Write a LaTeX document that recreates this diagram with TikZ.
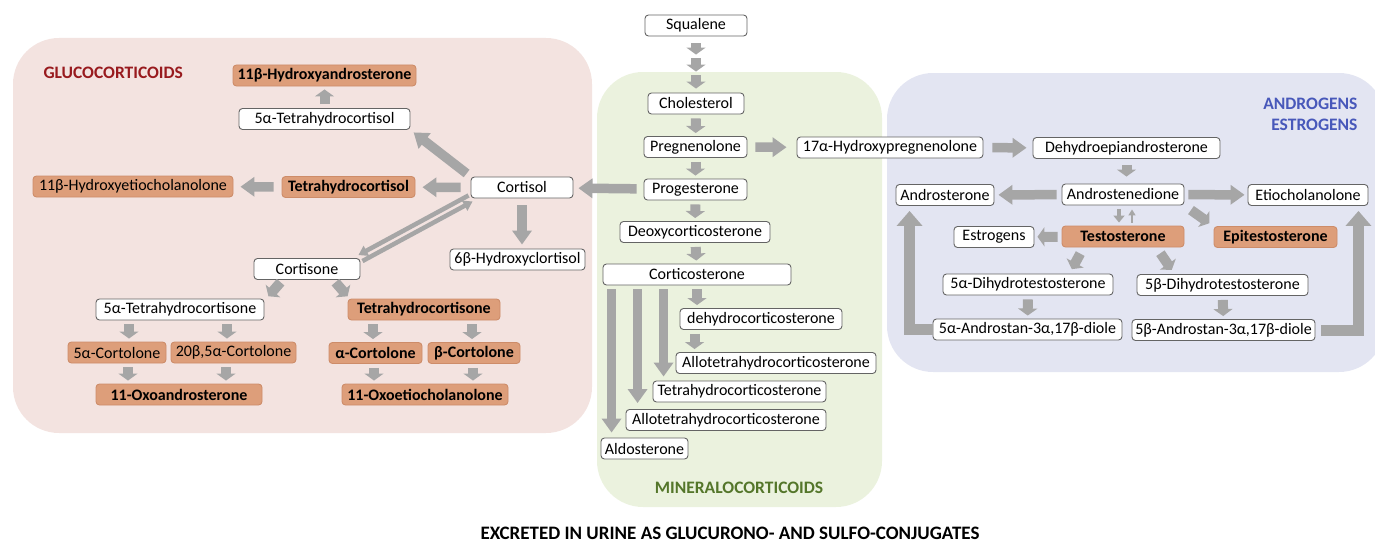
\documentclass[tikz,border=0pt]{standalone}
\usepackage{fontspec}
\setmainfont{Carlito}
\usetikzlibrary{arrows.meta}

\definecolor{arw}{RGB}{166,166,166}
\definecolor{rim}{RGB}{100,100,100}
\definecolor{peach}{RGB}{221,158,122}
\definecolor{peachrim}{RGB}{205,140,105}
\definecolor{glucobg}{RGB}{243,227,224}
\definecolor{minerbg}{RGB}{235,242,222}
\definecolor{andrbg}{RGB}{227,229,242}
\definecolor{glucotx}{RGB}{152,26,30}
\definecolor{minertx}{RGB}{84,118,42}
\definecolor{andrtx}{RGB}{72,88,186}

\begin{document}
\begin{tikzpicture}[x=1pt,y=-1pt,font=\fontsize{16}{18}\selectfont,
	met/.style={draw=rim,fill=white,rounded corners=3.5pt,line width=0.9pt,minimum height=21pt,inner xsep=1pt,inner ysep=0pt},
	uri/.style={met,draw=peachrim,fill=peach,font=\fontsize{16}{18}\selectfont\bfseries},
	uril/.style={met,draw=peachrim,fill=peach},
	gname/.style={font=\fontsize{17.5}{21}\selectfont\bfseries},
	panel/.style={rounded corners=46pt},
	fat/.style={draw=arw,line width=9.5pt,-{Triangle[length=14pt,width=19pt]}},
	stub/.style={draw=arw,line width=10pt,-{Triangle[length=7pt,width=19pt]},shorten <=4pt,shorten >=3pt},
	duo/.style={draw=arw,line width=4.5pt,-{Triangle[length=9pt,width=11pt]}},
	elbow/.style={draw=arw,line width=11pt,-{Triangle[length=15pt,width=25pt]}}]
	\useasboundingbox (0,0) rectangle (1375,543);

	\fill[glucobg,panel] (13,38) rectangle (592,433);
	\fill[minerbg,panel] (597,72) rectangle (882,507);
	\fill[andrbg,panel] (887,73) rectangle (1385,372);

	\node[gname,text=glucotx,anchor=west] (glu) at (40,73) {GLUCOCORTICOIDS};
	\node[gname,text=andrtx,align=right,anchor=east] (andr) at (1361,114) {ANDROGENS\\ESTROGENS};
	\node[gname,text=minertx] (miner) at (739,488) {MINERALOCORTICOIDS};
	\node[gname,font=\fontsize{19}{22}\selectfont\bfseries] (urine) at (730,533) {EXCRETED IN URINE AS GLUCURONO- AND SULFO-CONJUGATES};

	\node[met,minimum width=102pt] (sq) at (696,25.5) {Squalene};
	\node[met,minimum width=96pt] (chol) at (696,103.5) {Cholesterol};
	\node[met,minimum width=103pt] (preg) at (695.5,147) {Pregnenolone};
	\node[met,minimum width=103pt] (prog) at (695.5,189.5) {Progesterone};
	\node[met,minimum width=150pt] (doc) at (695,232) {Deoxycorticosterone};
	\node[met,minimum width=188pt] (cort) at (697,274.5) {Corticosterone};
	\node[met,minimum width=162pt] (dhc) at (761,319) {dehydrocorticosterone};
	\node[met,minimum width=200pt] (ath1) at (776,363) {Allotetrahydrocorticosterone};
	\node[met,minimum width=173pt] (thcc) at (739.5,391.5) {Tetrahydrocorticosterone};
	\node[met,minimum width=200pt] (ath2) at (726,420) {Allotetrahydrocorticosterone};
	\node[met,minimum width=87pt] (aldo) at (644.5,448.5) {Aldosterone};

	\node[uri,minimum width=183pt] (hya) at (324.5,75.5) {11β-Hydroxyandrosterone};
	\node[met,minimum width=171pt] (thf5) at (324.5,119) {5α-Tetrahydrocortisol};
	\node[uril,minimum width=200pt] (hye) at (133,186.5) {11β-Hydroxyetiocholanolone};
	\node[uri,minimum width=133pt] (thf) at (348.5,187) {Tetrahydrocortisol};
	\node[met,minimum width=102pt] (cortisol) at (522,187.5) {Cortisol};
	\node[met,minimum width=135pt] (hcl) at (517.5,259.5) {6β-Hydroxyclortisol};
	\node[met,minimum width=106pt] (cortisone) at (307,269) {Cortisone};
	\node[met,minimum width=168pt] (the5) at (180,309.5) {5α-Tetrahydrocortisone};
	\node[uri,minimum width=152pt] (the) at (424,309.5) {Tetrahydrocortisone};
	\node[uril,minimum width=98pt] (c5a) at (117,352.5) {5α-Cortolone};
	\node[uril,minimum width=125pt] (c20) at (233.5,352.5) {20β,5α-Cortolone};
	\node[uri,minimum width=93pt] (cal) at (375.5,353) {α-Cortolone};
	\node[uri,minimum width=92pt] (cbe) at (474,353) {β-Cortolone};
	\node[uri,minimum width=166pt] (oxa) at (179,394.5) {11-Oxoandrosterone};
	\node[uri,minimum width=166pt] (oxe) at (425,394.5) {11-Oxoetiocholanolone};

	\node[met,minimum width=186pt] (h17) at (890,147.5) {17α-Hydroxypregnenolone};
	\node[met,minimum width=187pt] (dhea) at (1126.5,148) {Dehydroepiandrosterone};
	\node[met,minimum width=122pt] (adione) at (1123,194.5) {Androstenedione};
	\node[met,minimum width=98pt] (andro) at (945,195) {Androsterone};
	\node[met,minimum width=120pt] (etio) at (1308,195) {Etiocholanolone};
	\node[uri,minimum width=122pt] (testo) at (1123,236.5) {Testosterone};
	\node[met,minimum width=80pt] (estro) at (994,237) {Estrogens};
	\node[uri,minimum width=123pt] (epi) at (1275.5,237) {Epitestosterone};
	\node[met,minimum width=170pt] (dht5a) at (1028,284.5) {5α-Dihydrotestosterone};
	\node[met,minimum width=171pt] (dht5b) at (1222.5,285) {5β-Dihydrotestosterone};
	\node[met,minimum width=189pt] (and5a) at (1027.5,329.5) {5α-Androstan-3α,17β-diole};
	\node[met,minimum width=183pt] (and5b) at (1223.5,330) {5β-Androstan-3α,17β-diole};

	\draw[stub,shorten <=7pt,shorten >=38pt] (sq) -- (chol);
	\draw[stub,shorten <=22pt,shorten >=21pt] (sq) -- (chol);
	\draw[stub,shorten <=39pt,shorten >=4pt] (sq) -- (chol);
	\draw[stub] (chol) -- (preg);
	\draw[stub] (preg) -- (prog);
	\draw[stub] (prog) -- (doc);
	\draw[stub] (doc) -- (cort);
	\draw[stub] (cort.south) -- (cort.south |- dhc.north);
	\draw[stub] ([xshift=15pt]dhc.south west) -- ([xshift=15pt]dhc.south west |- ath1.north);
	\draw[fat,line width=9pt,shorten <=4pt,shorten >=5pt] ([xshift=9pt]cort.south west) -- ([xshift=9pt]cort.south west |- aldo.north);
	\draw[fat,line width=9pt,shorten <=4pt,shorten >=6pt] ([xshift=35pt]cort.south west) -- ([xshift=35pt]cort.south west |- ath2.north);
	\draw[fat,line width=9pt,shorten <=4pt,shorten >=4pt] ([xshift=61pt]cort.south west) -- ([xshift=61pt]cort.south west |- thcc.north);

	\draw[fat,shorten <=7pt,shorten >=5pt] (prog) -- (cortisol);
	\draw[fat,shorten <=10pt,shorten >=7pt] (cortisol) -- (thf);
	\draw[fat,shorten <=8pt,shorten >=7pt] (thf) -- (hye);
	\draw[fat,shorten <=5pt,shorten >=4pt] (cortisol.north west) -- (thf5.south east);
	\draw[stub] (thf5.north) -- (thf5.north |- hya.south);
	\draw[fat,shorten <=7pt,shorten >=4pt] (cortisol.south) -- (cortisol.south |- hcl.north);
	\draw[duo] ([shift={(-2,-3)}]cortisol.south west) -- ([shift={(-2,-3)}]cortisone.north east);
	\draw[duo] ([shift={(2,3)}]cortisone.north east) -- ([shift={(2,3)}]cortisol.south west);
	\draw[stub,shorten <=3pt,shorten >=3pt] ([xshift=29pt]cortisone.south west) -- ([xshift=2pt]the5.north east);
	\draw[stub,shorten <=3pt,shorten >=3pt] ([xshift=-27pt]cortisone.south east) -- ([xshift=2pt]the.north west);
	\draw[stub] ([xshift=-51pt]the5.south) -- ([xshift=-51pt]the5.south |- c5a.north);
	\draw[stub] ([xshift=47pt]the5.south) -- ([xshift=47pt]the5.south |- c20.north);
	\draw[stub] ([xshift=-51pt]oxa.north |- c5a.south) -- ([xshift=-51pt]oxa.north);
	\draw[stub] ([xshift=47pt]oxa.north |- c20.south) -- ([xshift=47pt]oxa.north);
	\draw[stub] ([xshift=-51pt]the.south) -- ([xshift=-51pt]the.south |- cal.north);
	\draw[stub] ([xshift=48pt]the.south) -- ([xshift=48pt]the.south |- cbe.north);
	\draw[stub] ([xshift=-51pt]oxe.north |- cal.south) -- ([xshift=-51pt]oxe.north);
	\draw[stub] ([xshift=48pt]oxe.north |- cbe.south) -- ([xshift=48pt]oxe.north);

	\draw[fat,shorten <=8pt,shorten >=10pt] (preg) -- (h17);
	\draw[fat,shorten <=9pt,shorten >=6pt] (h17) -- (dhea);
	\draw[stub,shorten <=6pt,shorten >=7pt] (dhea.south) -- (dhea.south |- adione.north);
	\draw[fat,shorten <=5pt,shorten >=4pt] (adione) -- (andro);
	\draw[fat,shorten <=4pt,shorten >=3pt] (adione) -- (etio);
	\draw[duo,line width=4pt,-{Triangle[length=7pt,width=11pt]},shorten <=4pt,shorten >=3pt] ([xshift=-4pt]adione.south) -- ([xshift=-4pt]testo.north);
	\draw[duo,line width=2.5pt,-{Triangle[length=6pt,width=7pt]},shorten <=3pt,shorten >=4pt] ([xshift=9pt]testo.north) -- ([xshift=9pt]adione.south);
	\draw[stub,shorten <=8pt,shorten >=5pt] (adione.south east) -- (epi.north west);
	\draw[stub] (testo) -- (estro);
	\draw[stub,shorten <=7pt,shorten >=5pt] ([xshift=22pt]testo.south west) -- ([xshift=-44pt]dht5a.north east);
	\draw[stub,shorten <=7pt,shorten >=5pt] ([xshift=-28pt]testo.south east) -- ([xshift=38pt]dht5b.north west);
	\draw[stub] (dht5a) -- (and5a);
	\draw[stub] (dht5b) -- (and5b);
	\draw[elbow,shorten >=5pt] (and5a.west) -| ([xshift=14pt]andro.south west);
	\draw[elbow,shorten <=6pt,shorten >=5pt] (and5b.east) -| ([xshift=-10pt]etio.south east);
\end{tikzpicture}
\end{document}
